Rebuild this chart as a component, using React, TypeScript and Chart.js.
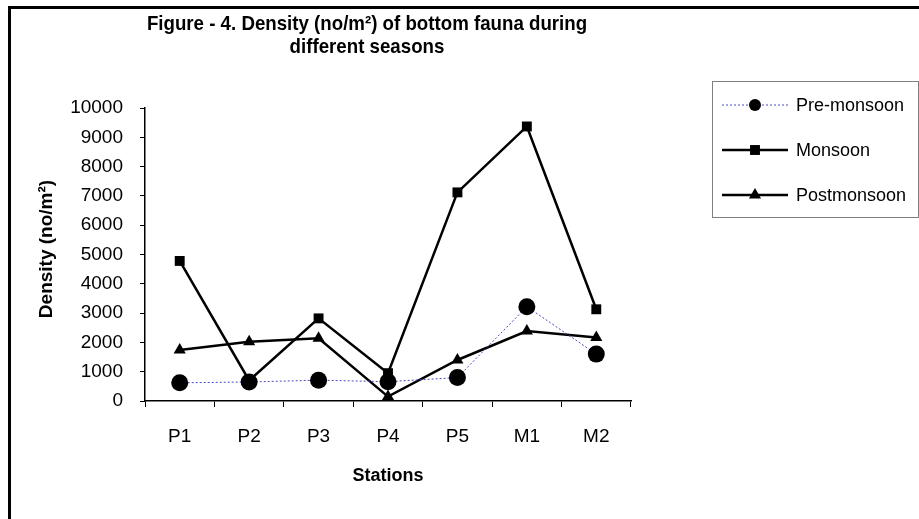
import React, { useEffect, useRef } from "react";
import { Chart, registerables } from "chart.js";

Chart.register(...registerables);

const stations = ["P1", "P2", "P3", "P4", "P5", "M1", "M2"];
const preMonsoon = [620, 650, 710, 660, 800, 3220, 1600];
const monsoon = [4780, 700, 2820, 950, 7120, 9370, 3130];
const postMonsoon = [1740, 2020, 2140, 150, 1400, 2390, 2170];
const yTicks = [0, 1000, 2000, 3000, 4000, 5000, 6000, 7000, 8000, 9000, 10000];

const titleLines = ["Figure - 4. Density (no/m²) of bottom fauna during", "different seasons"];
const xTitle = "Stations";
const yTitle = "Density (no/m²)";
const seriesNames = ["Pre-monsoon", "Monsoon", "Postmonsoon"];

const FONT = "'Liberation Sans', Arial, sans-serif";

function marker(ctx: CanvasRenderingContext2D, style: string, r: number, x: number, y: number) {
  ctx.beginPath();
  if (style === "circle") {
    ctx.arc(x, y, r, 0, Math.PI * 2);
  } else if (style === "rect") {
    const s = r * Math.SQRT1_2;
    ctx.rect(x - s, y - s, 2 * s, 2 * s);
  } else {
    ctx.moveTo(x, y - r);
    ctx.lineTo(x + r * 0.866, y + r * 0.5);
    ctx.lineTo(x - r * 0.866, y + r * 0.5);
    ctx.closePath();
  }
  ctx.fill();
}

const decorPlugin = {
  id: "decor",
  afterDraw(chart: any) {
    const ctx = chart.ctx as CanvasRenderingContext2D;
    const area = chart.chartArea;
    ctx.save();
    // outer frame
    ctx.strokeStyle = "#000";
    ctx.lineWidth = 3;
    ctx.beginPath();
    ctx.moveTo(9.5, 530);
    ctx.lineTo(9.5, 7.5);
    ctx.lineTo(930, 7.5);
    ctx.stroke();

    // title (slightly condensed bold)
    ctx.fillStyle = "#000";
    ctx.font = `bold 21px ${FONT}`;
    ctx.textAlign = "center";
    ctx.textBaseline = "alphabetic";
    ctx.save();
    ctx.translate(367, 0);
    ctx.scale(0.89, 1);
    ctx.fillText(titleLines[0], 0, 30);
    ctx.fillText(titleLines[1], 0, 53);
    ctx.restore();

    // axis titles
    ctx.font = `bold 18px ${FONT}`;
    ctx.fillText(xTitle, (area.left + area.right) / 2, 481);
    ctx.save();
    ctx.font = `bold 19px ${FONT}`;
    ctx.translate(52, 249);
    ctx.rotate(-Math.PI / 2);
    ctx.fillText(yTitle, 0, 0);
    ctx.restore();

    // legend
    const lx = 712, ly = 81, lw = 206, lh = 136;
    ctx.strokeStyle = "#808080";
    ctx.lineWidth = 1;
    ctx.strokeRect(lx + 0.5, ly + 0.5, lw, lh);
    ctx.font = `18px ${FONT}`;
    ctx.textAlign = "left";
    ctx.textBaseline = "middle";
    const rows = [105, 150, 195];
    chart.data.datasets.forEach((ds: any, i: number) => {
      const y = rows[i];
      ctx.save();
      ctx.strokeStyle = ds.borderColor;
      ctx.lineWidth = ds.borderWidth;
      ctx.setLineDash(ds.borderDash || []);
      ctx.beginPath();
      ctx.moveTo(722, y);
      ctx.lineTo(788, y);
      ctx.stroke();
      ctx.restore();
      ctx.fillStyle = "#000";
      marker(ctx, ds.pointStyle, i === 0 ? 6 : 7, 755, y);
      ctx.fillText(seriesNames[i], 796, y + 1);
    });
    ctx.restore();
  },
};

export default function App() {
  const ref = useRef<HTMLCanvasElement>(null);
  useEffect(() => {
    document.body.style.margin = "0";
    const chart = new Chart(ref.current!, {
      type: "line",
      data: {
        labels: stations,
        datasets: [
          {
            label: seriesNames[0],
            data: preMonsoon,
            borderColor: "#4a4ac0",
            borderWidth: 1,
            borderDash: [2, 2],
            pointStyle: "circle",
            pointRadius: 8.5,
            pointBackgroundColor: "#000",
            pointBorderColor: "#000",
            pointBorderWidth: 0,
            tension: 0,
          },
          {
            label: seriesNames[1],
            data: monsoon,
            borderColor: "#000",
            borderWidth: 2.5,
            pointStyle: "rect",
            pointRadius: 7,
            pointBackgroundColor: "#000",
            pointBorderColor: "#000",
            pointBorderWidth: 0,
            tension: 0,
          },
          {
            label: seriesNames[2],
            data: postMonsoon,
            borderColor: "#000",
            borderWidth: 2.5,
            pointStyle: "triangle",
            pointRadius: 7,
            pointBackgroundColor: "#000",
            pointBorderColor: "#000",
            pointBorderWidth: 0,
            tension: 0,
          },
        ],
      },
      options: {
        responsive: false,
        animation: false,
        devicePixelRatio: 1,
        layout: { padding: { left: 0, top: 108, right: 288, bottom: 0 } },
        plugins: { legend: { display: false }, title: { display: false }, tooltip: { enabled: false } },
        scales: {
          x: {
            type: "category",
            offset: true,
            afterFit: (s: any) => { s.height = 118; },
            grid: { display: true, drawOnChartArea: false, drawTicks: true, tickLength: 6, color: "#000", offset: true },
            border: { display: true, color: "#000", width: 1.5 },
            ticks: { color: "#000", font: { family: FONT, size: 19 }, padding: 18, maxRotation: 0 },
          },
          y: {
            min: 0,
            max: 10000,
            afterFit: (s: any) => { s.width = 145; },
            afterBuildTicks: (s: any) => { s.ticks = yTicks.map((v) => ({ value: v })); },
            grid: { display: true, drawOnChartArea: false, drawTicks: true, tickLength: 5, color: "#000" },
            border: { display: true, color: "#000", width: 1.5 },
            ticks: { color: "#000", font: { family: FONT, size: 19 }, padding: 17, callback: (v: any) => String(v) },
          },
        },
      },
      plugins: [decorPlugin],
    });
    return () => chart.destroy();
  }, []);
  return (
    <div style={{ width: 919, height: 519, background: "#fff" }}>
      <canvas ref={ref} width={919} height={519} style={{ display: "block" }} />
    </div>
  );
}
